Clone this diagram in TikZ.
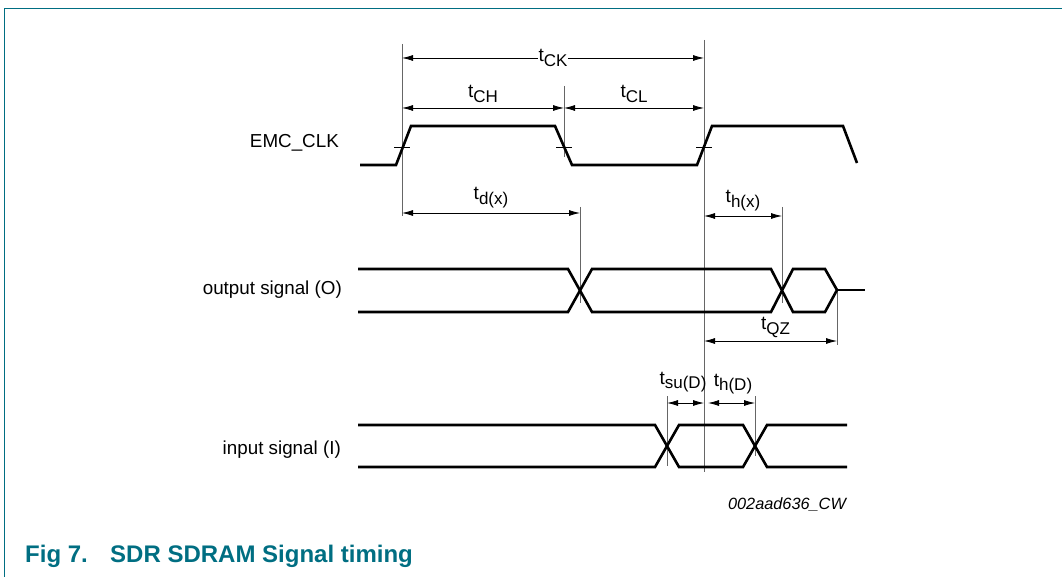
\documentclass[tikz,border=0pt]{standalone}
\usepackage{fontspec}
\setmainfont{Liberation Sans}
\usepackage{tikz}
\usetikzlibrary{arrows.meta, positioning}

\definecolor{nxpteal}{RGB}{0,110,130}
\newcommand{\tsub}[2]{t\raisebox{-0.45ex}{\fontsize{17}{17}\selectfont #2}}

\begin{document}
\begin{tikzpicture}[
    x=1pt, y=-1pt,
    sig/.style={line width=2.6pt, line join=miter},
    guide/.style={gray!80!black, line width=0.8pt},
    dim/.style={{Latex[length=11pt,width=6pt]}-{Latex[length=11pt,width=6pt]}, line width=0.8pt},
    lbl/.style={font=\fontsize{19}{22}\selectfont, inner sep=1pt},
    signame/.style={font=\fontsize{18.8}{22}\selectfont, anchor=east, inner sep=0pt},
    caption/.style={anchor=base west, text=nxpteal, font=\fontsize{24}{28}\selectfont\bfseries, inner sep=0pt},
]
    \useasboundingbox (0,0) rectangle (1062,577);

    % Frame and caption
    \draw[nxpteal, line width=1pt] (4,577) -- (4,9) -- (1062,9);
    \node[caption] (fignum) at (25,562) {Fig 7.};
    \node[caption] (figtitle) at (110,562) {SDR SDRAM Signal timing};

    % Signal names
    \node[signame] (clkname) at (339,143) {EMC\_CLK};
    \node[signame] (outname) at (342,290) {output signal (O)};
    \node[signame] (inname) at (341,450) {input signal (I)};

    % Guide lines
    \coordinate (rise1) at (402,147);
    \coordinate (fall1) at (564,147);
    \coordinate (rise2) at (704,147);
    \draw[guide] (402,44) -- (402,216);
    \draw[guide] (564,86) -- (564,157);
    \draw[guide] (704,40) -- (704,472);
    \draw[guide] (580,207) -- (580,303);
    \draw[guide] (782,207) -- (782,303);
    \draw[guide] (837,290) -- (837,345);
    \draw[guide] (667,396) -- (667,466);
    \draw[guide] (755,396) -- (755,456);

    % Crossing ticks on the clock edges
    \foreach \p in {rise1, fall1, rise2}
        \draw[line width=0.8pt] ([xshift=-8pt]\p) -- ([xshift=8pt]\p);

    % EMC_CLK
    \draw[sig] (360,165) -- (396,165) -- (411,126) -- (555,126) -- (572,165)
        -- (697,165) -- (712,126) -- (843,126) -- (857,163);

    % output signal
    \draw[sig] (358,269) -- (568,269) -- (592,312) -- (771,312) -- (793,269)
        -- (825,269) -- (837,290) -- (825,312) -- (793,312) -- (771,269)
        -- (592,269) -- (568,312) -- (358,312);
    \draw[sig] (837,290) -- (865,290);

    % input signal
    \draw[sig] (358,425) -- (655,425) -- (679,467) -- (743,467) -- (767,425) -- (847,425);
    \draw[sig] (358,467) -- (655,467) -- (679,425) -- (743,425) -- (767,467) -- (847,467);

    % Timing arrows
    \draw[dim] (402,58) -- node[lbl, fill=white] (tck) {\tsub{t}{CK}} (704,58);
    \draw[dim] (402,108) -- node[lbl, above=4pt] (tch) {\tsub{t}{CH}} (564,108);
    \draw[dim] (564,108) -- node[lbl, above=4pt] (tcl) {\tsub{t}{CL}} (704,108);
    \draw[dim] (402,213) -- node[lbl, above=4pt] (tdx) {\tsub{t}{d(x)}} (580,213);
    \draw[dim] (704,216) -- node[lbl, above=4pt] (thx) {\tsub{t}{h(x)}} (782,216);
    \draw[dim] (704,341) -- node[lbl, above=2pt, xshift=5pt] (tqz) {\tsub{t}{QZ}} (837,341);
    \draw[dim] (667,403) -- (704,403);
    \draw[dim] (708,403) -- (755,403);
    \node[lbl] (tsud) at (683,382) {\tsub{t}{su(D)}};
    \node[lbl] (thd) at (733,384) {\tsub{t}{h(D)}};

    % Drawing number
    \node[font=\fontsize{16.3}{19}\selectfont\itshape, inner sep=0pt] (drawno) at (787,505) {002aad636\_CW};
\end{tikzpicture}
\end{document}
